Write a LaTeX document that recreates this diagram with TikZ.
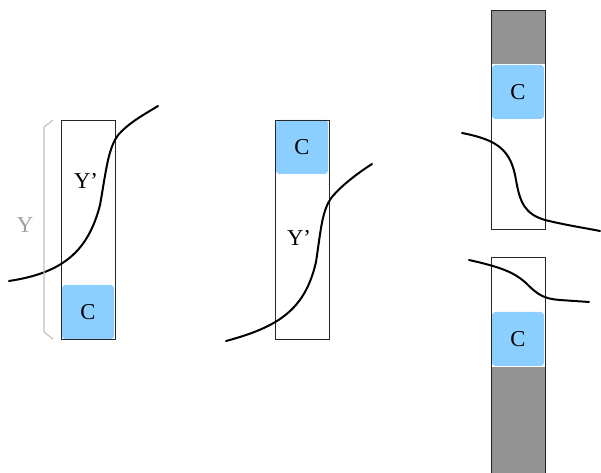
\documentclass[tikz,border=0pt]{standalone}
\usepackage{fontspec}
\setmainfont{Liberation Serif}
\definecolor{cblue}{RGB}{138,207,255}
\definecolor{tubegray}{RGB}{147,147,147}
\definecolor{bracegray}{RGB}{190,190,190}
\definecolor{labelgray}{RGB}{160,160,160}
\tikzset{
  cbox/.style={fill=cblue, rounded corners=2.5pt, minimum width=39pt, minimum height=40.5pt, inner sep=0pt, font=\fontsize{17}{20}\selectfont},
  lbl/.style={inner sep=0pt, font=\fontsize{17}{20}\selectfont},
  tube/.style={draw=black!85, line width=0.6pt},
  curve/.style={black, line width=1.5pt, line cap=round}
}

\begin{document}
\begin{tikzpicture}[x=0.75pt,y=-0.75pt]
\useasboundingbox (0,0) rectangle (601,473);
% left tube, C at the bottom
\node[cbox] (cleft) at (88,312) {C};
\draw[tube] (61,120) rectangle (115,339);
\node[lbl] (yleft) at (86,181) {Y’};
\draw[curve] (9,281) .. controls (62,273) and (88,252) .. (100,205) .. controls (106,172) and (108,147) .. (119,134) .. controls (130,122) and (145,114) .. (158,106);
% brace for Y
\draw[bracegray, line width=0.8pt] (53,120) -- (44,127) -- (44,332) -- (53,339);
\node[lbl, text=labelgray] (yall) at (25,225) {Y};
% middle tube, C at the top
\node[cbox] (cmid) at (302,147) {C};
\draw[tube] (275,120) rectangle (329,339);
\node[lbl] (ymid) at (299,238) {Y’};
\draw[curve] (226,341) .. controls (278,327) and (305,310) .. (316,262) .. controls (321,229) and (322,210) .. (332,197) .. controls (342,185) and (358,173) .. (372,164);
% right upper tube
\fill[tubegray] (491,10) rectangle (545,64);
\node[cbox] (cup) at (518,92) {C};
\draw[tube] (491,10) rectangle (545,229);
\draw[curve] (462,133) .. controls (498,140) and (511,150) .. (516,180) .. controls (520,203) and (525,214) .. (545,220) .. controls (565,225) and (585,228) .. (600,231);
% right lower tube
\fill[tubegray] (491,367) rectangle (545,480);
\node[cbox] (cdown) at (518,339) {C};
\draw[tube] (491,257) rectangle (545,480);
\draw[curve] (469,260) .. controls (500,267) and (515,272) .. (528,285) .. controls (538,295) and (545,299) .. (560,300) -- (589,302);
\end{tikzpicture}
\end{document}
